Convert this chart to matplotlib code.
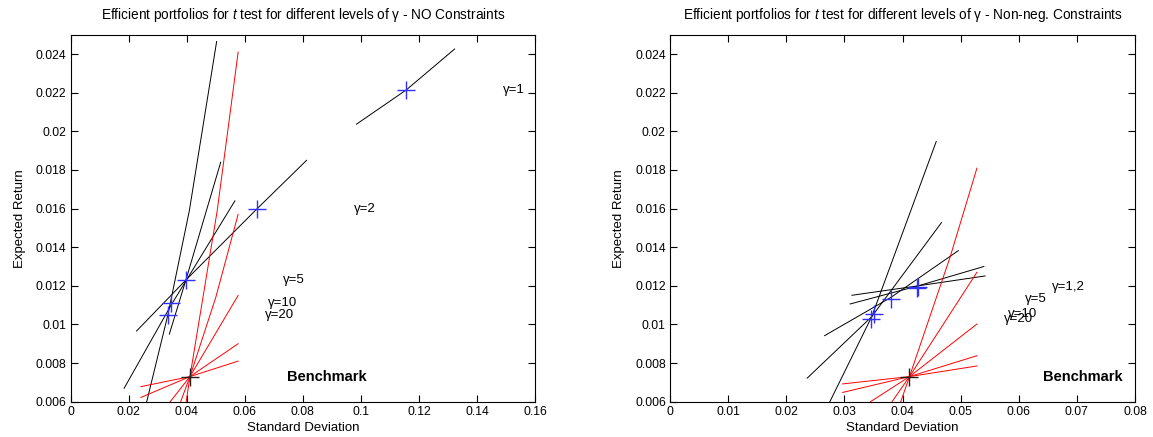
import matplotlib
matplotlib.use("Agg")
import matplotlib.pyplot as plt

plt.rcParams["font.family"] = ["Liberation Sans", "DejaVu Sans"]
plt.rcParams["mathtext.fontset"] = "custom"
plt.rcParams["mathtext.rm"] = "Liberation Sans"
plt.rcParams["mathtext.it"] = "Liberation Sans:italic"

# benchmark portfolio (std, mean)
bench_sd = 0.0411
bench_ret = 0.0073

# ---- left panel: no constraints ----
left_labels = ["γ=1", "γ=2", "γ=5", "γ=10", "γ=20"]
left_sd = [0.1157, 0.0643, 0.0397, 0.0346, 0.0335]
left_ret = [0.02215, 0.0160, 0.0123, 0.0111, 0.0105]

left_black_x = [
    [0.0985, 0.1157, 0.1323],
    [0.0227, 0.0397, 0.0643, 0.0813],
    [0.0184, 0.0346, 0.0566],
    [0.0262, 0.0335, 0.0409, 0.0503],
    [0.0340, 0.0397, 0.0517],
]
left_black_y = [
    [0.02037, 0.02215, 0.02426],
    [0.00966, 0.0123, 0.0160, 0.0185],
    [0.00669, 0.0110, 0.0164],
    [0.0060, 0.0105, 0.0159, 0.02465],
    [0.0095, 0.0123, 0.0184],
]
left_red_x = [
    [0.0398, 0.0411, 0.0505, 0.0549, 0.0577],
    [0.0379, 0.0411, 0.0500, 0.0577],
    [0.0343, 0.0411, 0.0577],
    [0.0242, 0.0411, 0.0577],
    [0.0242, 0.0411, 0.0577],
]
left_red_y = [
    [0.0060, 0.0073, 0.0159, 0.0209, 0.0241],
    [0.0060, 0.0073, 0.0114, 0.0157],
    [0.0060, 0.0073, 0.0115],
    [0.00622, 0.0073, 0.0090],
    [0.00678, 0.0073, 0.0081],
]
left_xticks = [0, 0.02, 0.04, 0.06, 0.08, 0.1, 0.12, 0.14, 0.16]

# ---- right panel: non-negativity constraints ----
right_labels = ["γ=1,2", "", "γ=5", "γ=10", "γ=20"]
right_sd = [0.0427, 0.0425, 0.0380, 0.0351, 0.0345]
right_ret = [0.01195, 0.0119, 0.0113, 0.01054, 0.01027]

right_black_x = [
    [0.0275, 0.0347, 0.0458],
    [0.0236, 0.0347, 0.0467],
    [0.0266, 0.0380, 0.0496],
    [0.0310, 0.0427, 0.0540],
    [0.0313, 0.0427, 0.0542],
]
right_black_y = [
    [0.0060, 0.0104, 0.01947],
    [0.00722, 0.0104, 0.01527],
    [0.00942, 0.0114, 0.01382],
    [0.01106, 0.0120, 0.0130],
    [0.01151, 0.0120, 0.01251],
]
right_red_x = [
    [0.0397, 0.0412, 0.0482, 0.0528],
    [0.0382, 0.0412, 0.0528],
    [0.0345, 0.0412, 0.0528],
    [0.0297, 0.0412, 0.0528],
    [0.0297, 0.0412, 0.0528],
]
right_red_y = [
    [0.0060, 0.0073, 0.0135, 0.01809],
    [0.0060, 0.0073, 0.0127],
    [0.0060, 0.0073, 0.01002],
    [0.00648, 0.0073, 0.00838],
    [0.00692, 0.0073, 0.00785],
]
right_xticks = [0, 0.01, 0.02, 0.03, 0.04, 0.05, 0.06, 0.07, 0.08]

yticks = [0.006, 0.008, 0.01, 0.012, 0.014, 0.016, 0.018, 0.02, 0.022, 0.024]


def panel(ax, bx, by, rx, ry, sd, ret, labels, xticks, label_dx, title):
    for x, y in zip(bx, by):
        ax.plot(x, y, color="k", lw=0.7)
    for x, y in zip(rx, ry):
        ax.plot(x, y, color="r", lw=0.7)
    ax.plot(sd, ret, "+", color="#3030ff", ms=13, mew=1.0, ls="none")
    ax.plot(bench_sd, bench_ret, "+", color="#202020", ms=13, mew=1.0)
    for s, r, lab in zip(sd, ret, labels):
        if lab:
            ax.text(s + label_dx, r, lab, fontsize=9.5, va="center", ha="left")
    ax.text(bench_sd + label_dx, bench_ret, "Benchmark", fontsize=10.5,
            fontweight="bold", va="center", ha="left")
    ax.set_xlim(xticks[0], xticks[-1])
    ax.set_ylim(0.006, 0.025)
    ax.set_xticks(xticks)
    ax.set_yticks(yticks)
    ax.set_xticklabels([f"{v:g}" for v in xticks])
    ax.set_yticklabels([f"{v:g}" for v in yticks])
    ax.tick_params(direction="in", length=5, width=0.8, top=True, right=True,
                   labelsize=8.7, pad=3)
    for sp in ax.spines.values():
        sp.set_linewidth(0.8)
    ax.set_xlabel("Standard Deviation", fontsize=9.5, labelpad=3)
    ax.set_ylabel("Expected Return", fontsize=9.5, labelpad=7)
    ax.set_title(title, fontsize=9.8, pad=11)


fig = plt.figure(figsize=(11.53, 4.37), dpi=100)
ax1 = fig.add_axes([0.0613, 0.0808, 0.4027, 0.8397])
ax2 = fig.add_axes([0.5811, 0.0808, 0.4033, 0.8397])

panel(ax1, left_black_x, left_black_y, left_red_x, left_red_y,
      left_sd, left_ret, left_labels, left_xticks, 0.0333,
      "Efficient portfolios for $\\it{t}$ test for different levels of γ - NO Constraints")
panel(ax2, right_black_x, right_black_y, right_red_x, right_red_y,
      right_sd, right_ret, right_labels, right_xticks, 0.023,
      "Efficient portfolios for $\\it{t}$ test for different levels of γ - Non-neg. Constraints")

fig.savefig("out.png", dpi=100)
